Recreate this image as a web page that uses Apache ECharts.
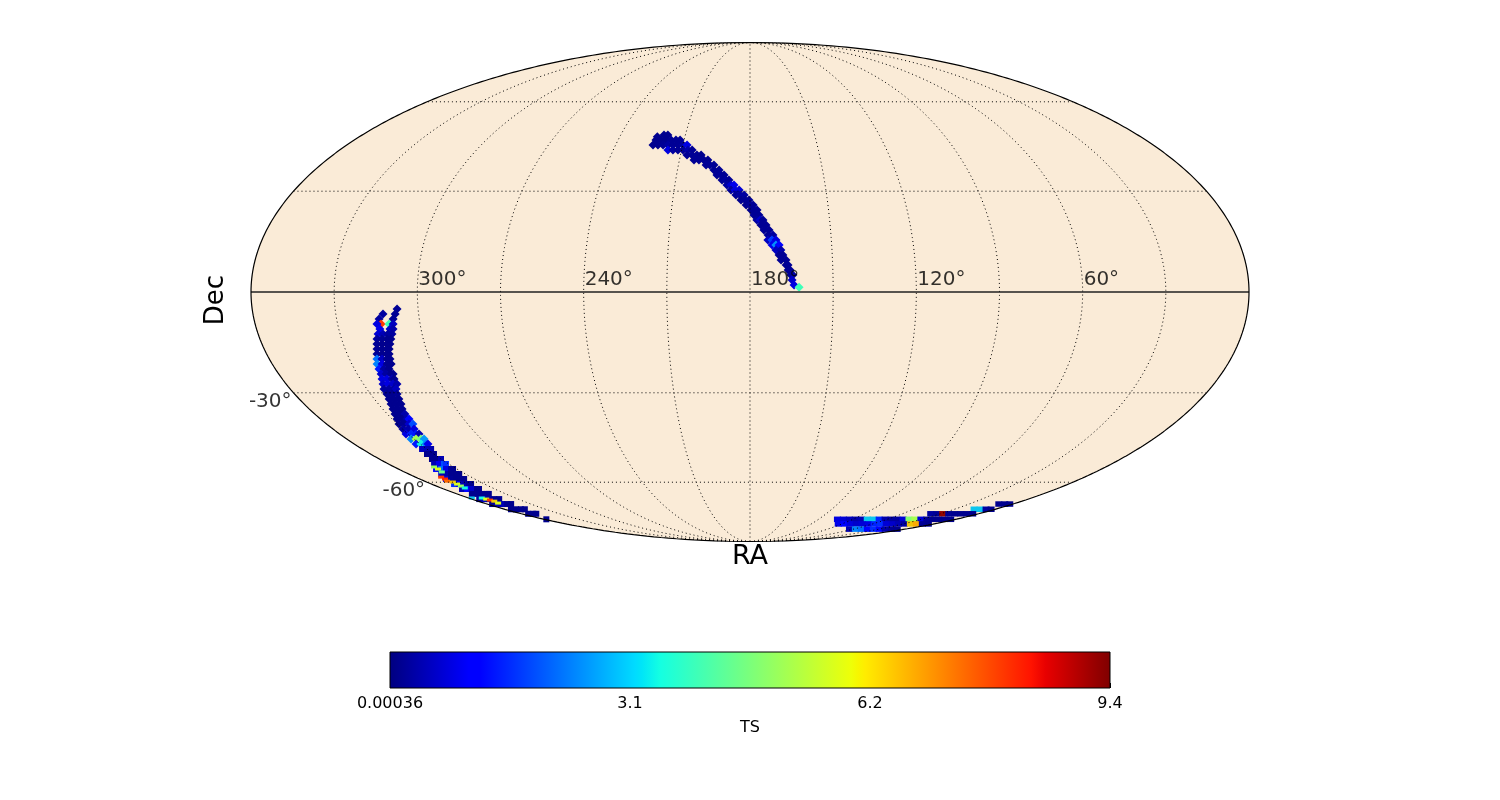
<!DOCTYPE html>
<html><head><meta charset="utf-8">
<script src="https://cdn.jsdelivr.net/npm/echarts@6/dist/echarts.min.js"></script>
<style>html,body{margin:0;background:#fff}#c{width:1500px;height:800px}</style></head>
<body><div id="c"></div>
<script>
// Cells of the sky map: [RA deg, Dec deg, TS]
const northArc = [
[222.7,47.5,.15],[219.9,48.1,.15],[218.1,48.1,.15],
[222.8,46.44,.15],[220.5,46.44,.15],[218.2,46.44,.15],[215.9,46.44,.2],[213.7,46.44,.2],[211.8,46.44,.2],
[223.3,44.75,.15],[221.1,44.75,.15],[218.8,44.75,.2],[216.6,44.75,.3],[214.4,44.75,.2],[212.1,44.75,.2],[209.9,44.75,.3],[208.1,44.75,.9],
[216.0,43.1,.9],[213.8,43.1,.3],[211.6,43.1,.2],[209.4,43.1,.2],[207.2,43.1,.4],[205.4,43.1,.2],
[207.2,41.47,.2],[205.0,41.47,.2],[202.9,41.47,.2],[201.1,41.47,.15],
[203.8,39.85,.2],[201.7,39.85,.2],[199.6,39.85,.2],[197.9,39.85,.15],
[198.4,38.23,.2],[196.8,38.23,.2],[195.1,38.23,.2],
[194.9,36.63,.2],[192.8,36.63,.2],
[193.5,35.05,.2],[191.8,35.05,.25],[190.6,35.05,.2],
[191.3,33.49,.2],[189.7,33.49,.3],[188.5,33.49,.2],
[189.2,31.93,.3],[187.6,31.93,.7],[186.4,31.93,1.0],
[187.5,30.37,.3],[185.9,30.37,.9],[184.3,30.37,.8],
[185.5,28.83,.2],[183.9,28.83,.3],[182.3,28.83,.3],
[183.5,27.3,.15],[181.9,27.3,.2],[180.4,27.3,.2],
[181.5,25.77,.15],[180,25.77,.2],[178.8,25.77,.2],
[179.6,24.26,.15],[178.5,24.26,.2],[177.3,24.26,.2],
[178.5,22.74,.2],[176.6,22.74,.2],
[177.4,21.24,.3],[176.2,21.24,.7],[175.1,21.24,.2],
[175.9,19.74,.2],[174,19.74,.2],
[174.8,18.25,.2],[172.9,18.25,.2],
[173.3,16.76,.2],[171.5,16.76,.3],
[173.4,15.27,.6],[171.9,15.27,1.7],[170.4,15.27,.9],
[171.9,13.79,1.0],[170.5,13.79,2.5],[169.3,13.79,1.2],
[170.5,12.31,.6],[168.7,12.31,.4],
[169.4,10.84,.2],[168,10.84,.2],
[168.7,9.37,.2],[166.9,9.37,.2],
[166.9,7.9,.15],[166.2,7.9,.2],
[166.2,6.44,.15],[165.5,6.44,.2],
[165.2,4.97,.2],[164.5,4.97,.3],
[164.8,3.51,.7],
[164.1,2.05,.9],
[162.3,1.4,4.0]
];
const southUpper = [
[307.6,-4.97,.2],
[308.5,-6.44,.2],[312.9,-6.44,.3],
[309.5,-7.9,.2],[314.6,-7.9,.3],
[314.2,-9.37,8.0],[311.3,-9.37,4.0],[309.8,-9.37,.6],[315.7,-9.37,.9],
[315.0,-10.84,1.0],[311.3,-10.84,.7],[310.2,-10.84,.4],
[316.1,-12.31,.8],[314.3,-12.31,.5],[312.5,-12.31,.3],[311.0,-12.31,.3],
[317.0,-13.79,.3],[315.2,-13.79,.2],[313.3,-13.79,.15],[311.9,-13.79,.15],
[317.6,-15.27,.2],[315.7,-15.27,.15],[313.9,-15.27,.15],[312.8,-15.27,.15],
[318.2,-16.76,.2],[316.3,-16.76,.15],[314.5,-16.76,.15],[313.7,-16.76,.15],
[318.9,-18.25,.2],[317.0,-18.25,.15],[315.2,-18.25,.15],[314.4,-18.25,.15],
[319.7,-19.74,2.2],[317.8,-19.74,.6],[315.9,-19.74,.15],[314.8,-19.74,.15],
[320.5,-21.24,2.4],[318.6,-21.24,.9],[316.7,-21.24,.15],[315.2,-21.24,.15],
[320.7,-22.74,1.4],[318.8,-22.74,.3],[316.9,-22.74,.15],
[320.9,-24.26,.7],[319.0,-24.26,.3],[317.1,-24.26,.15],[316.3,-24.26,.15],
[321.6,-25.77,.9],[319.7,-25.77,.9],[317.8,-25.77,.4],[317.0,-25.77,.15],
[322.4,-27.3,.7],[320.5,-27.3,.9],[318.6,-27.3,.7],[317.0,-27.3,.4],
[323.3,-28.83,.3],[321.3,-28.83,.3],[319.4,-28.83,.3],[318.6,-28.83,.6],
[323.5,-30.37,.15],[321.5,-30.37,.15],[319.5,-30.37,.2],
[324.1,-31.93,.15],[322.2,-31.93,.15],[320.2,-31.93,.15],
[324.9,-33.49,.15],[322.9,-33.49,.15],[320.9,-33.49,.15],
[325.8,-35.05,.15],[323.8,-35.05,.15],[322.1,-35.05,.15],
[326.8,-36.63,.15],[324.7,-36.63,.15],[322.7,-36.63,.4],
[327.9,-38.23,.15],[325.8,-38.23,.15],[323.8,-38.23,.4],[322.9,-38.23,1.2],
[329.2,-39.85,.15],[327.1,-39.85,.15],[325.0,-39.85,.7],[323.3,-39.85,1.9],
[329.8,-41.47,.3],[327.6,-41.47,.4],[325.0,-41.47,.9],
[330.9,-43.1,.9],[328.7,-43.1,1.5],[326.5,-43.1,1.4],[325.2,-43.1,.5],
[331.3,-44.75,2.4],[329.1,-44.75,5.2],[326.9,-44.75,4.7],[325.5,-44.75,2.6],
[331.9,-46.44,1.4],[329.7,-46.44,3.4],[327.4,-46.44,2.4],[326.5,-46.44,1.0]
];
const southLower = [
[332.2,-48.12,.6],[329.9,-48.12,.5],[328.0,-48.12,.4],
[333.2,-49.84,.15],[331.3,-49.84,.15],[329.9,-49.84,.15],
[334.4,-51.57,.15],[332.0,-51.57,.15],[330.0,-51.57,.5],
[337.3,-53.33,.5],[334.8,-53.33,1.0],[332.4,-53.33,1.9],[331.4,-53.33,1.6],
[340.7,-55.13,1.2],[338.1,-55.13,2.2],[335.6,-55.13,.9],[333.0,-55.13,.3],[332.0,-55.13,.15],
[342.9,-56.96,.6],[340.3,-56.96,.4],[337.7,-56.96,.15],[335.0,-56.96,.15],[333.4,-56.96,.15],
[345.6,-58.8,.9],[342.9,-58.8,.2],[340.2,-58.8,.15],[337.5,-58.8,.15],[335.8,-58.8,.15],
[347.2,-60.69,1.6],[344.3,-60.69,1.0],[341.5,-60.69,.4],[338.7,-60.69,.15],[337.6,-60.69,.15],
[349.3,-62.61,.5],[346.3,-62.61,1.2],[343.4,-62.61,.7],[340.5,-62.61,.15],[339.3,-62.61,.15],
[350.8,-64.55,.15],[347.8,-64.55,.15],[344.7,-64.55,.15],[341.6,-64.55,.15],[340.4,-64.55,.15],
[355.1,-66.64,.3],[351.9,-66.64,.6],[348.7,-66.64,.3],[345.4,-66.64,.15],[342.2,-66.64,.15],
[356.5,-68.71,.15],[353.1,-68.71,.5],[349.6,-68.71,.5],[346.2,-68.71,.15],[343.5,-68.71,.15],
[355.4,-70.97,.15],[351.7,-70.97,.15],[348.1,-70.97,.15],[345.2,-70.97,.15],
[354.7,-73,.15],[350.7,-73,.15],[348.3,-73,.15],
[358.2,-75.6,.15]
];
const southStreaks = [
[339.9,-54.4,5.0],[339.7,-55.13,5.8],[340.5,-56.2,4.5],
[346.2,-58.1,8.0],[346.2,-58.8,8.2],[347.6,-59.6,7.5],[345.4,-59.93,6.5],[345.5,-60.69,5.8],[345.9,-61.46,5.0],[346.2,-62.2,3.5],
[357.9,-66.2,3.0],[351.5,-66.2,3.5],[350.6,-66.64,5.8],[350.0,-67.05,8.0],[349.2,-67.5,6.5],[350.4,-68.3,5.8]
];
const polarArc = [
[9.7,-68.71,.15],[5.6,-68.71,.15],[2.2,-68.71,.15],
[15.6,-70.97,3.0],[11.2,-70.97,3.0],[6.8,-70.97,.3],[3.1,-70.97,.15],
[37.7,-73,.3],[33.0,-73,.2],[28.3,-73,9.2],[23.5,-73,.2],[18.8,-73,.15],[14.0,-73,.15],[9.3,-73,.15],[4.6,-73,.15],
[103.5,-75.6,.9],[98.3,-75.6,.8],[93.1,-75.6,.6],[87.9,-75.6,.4],[82.6,-75.6,.5],[77.4,-75.6,3.0],[72.2,-75.6,3.0],[67.0,-75.6,1.5],[61.8,-75.6,.4],[56.6,-75.6,.3],[51.4,-75.6,.3],[46.1,-75.6,.8],[40.9,-75.6,4.8],[35.7,-75.6,5.2],[30.5,-75.6,.8],[25.3,-75.6,.2],[20.1,-75.6,.15],[14.9,-75.6,.15],[9.6,-75.6,.15],[4.4,-75.6,.15],
[93.7,-77.9,1.0],[87.8,-77.9,1.2],[82.0,-77.9,.9],[76.1,-77.9,.7],[70.2,-77.9,.8],[64.3,-77.9,.9],[58.4,-77.9,1.5],[52.5,-77.9,1.6],[46.7,-77.9,.8],[40.8,-77.9,.7],[34.9,-77.9,.5],[29.0,-77.9,.3],[23.1,-77.9,6.5],[17.3,-77.9,6.8],[11.4,-77.9,.2],[5.5,-77.9,.15],
[64.6,-80.7,.5],[57.7,-80.7,2.4],[50.8,-80.7,2.2],[43.8,-80.7,1.2],[36.9,-80.7,1.6],[30.0,-80.7,1.2],[23.1,-80.7,.4],[16.1,-80.7,.2],[9.2,-80.7,.15]
];
const meridians = [30,60,90,120,150,180,210,240,270,300,330];
const parallels = [60,30,-30,-60];
const raLabels = [300,240,180,120,60];
const decLabels = [-30,-60];
const colorbarTicks = [0.00036,3.133,6.267,9.4];
const colorbarLabels = ['0.00036','3.1','6.2','9.4'];
const tsRange = [0.00036,9.4];
const jetStops = [[0,'#00007f'],[.11,'#0000ff'],[.125,'#0000ff'],[.34,'#00dbff'],[.35,'#00e5f8'],[.375,'#14ffe2'],[.64,'#eeff08'],[.65,'#f7f600'],[.66,'#ffec00'],[.89,'#ff1300'],[.91,'#e80000'],[1,'#7f0000']];
const jetEven = ['#00007f','#0000ff','#007fff','#14ffe2','#7bff7b','#e2ff14','#ff9400','#ff2100','#7f0000'];

// Mollweide projection, RA grows to the left and RA 180 is the centre
function project(ra, dec){
  const phi = dec*Math.PI/180, lam = (180-ra)*Math.PI/180;
  let th = phi;
  if (Math.abs(dec) < 89.999){
    for (let i=0;i<60;i++){
      const d = (2*th+Math.sin(2*th)-Math.PI*Math.sin(phi))/(2+2*Math.cos(2*th));
      th -= d; if (Math.abs(d)<1e-9) break;
    }
  } else th = Math.sign(dec)*Math.PI/2;
  return [2*Math.SQRT2/Math.PI*lam*Math.cos(th), Math.SQRT2*Math.sin(th)];
}
const cells = a => a.map(c => project(c[0],c[1]).concat(c[2]));
function meridianPath(ra){ const p=[]; for(let d=-90;d<=90;d+=.5) p.push(project(ra,d)); return p; }
function parallelPath(dec){ const p=[]; for(let r=0;r<=360;r+=2) p.push(project(r,dec)); return p; }
const rimLeft = meridianPath(360), rimRight = meridianPath(0);
const rim = rimLeft.concat(rimRight.slice().reverse());

const lineBase = {type:'line',xAxisIndex:0,yAxisIndex:0,showSymbol:false,symbol:'none',silent:true,clip:false,z:4,animation:false};
const cellBase = {type:'scatter',xAxisIndex:0,yAxisIndex:0,silent:true,z:3,animation:false,clip:false,itemStyle:{opacity:1}};
const series = [
 {type:'custom',xAxisIndex:0,yAxisIndex:0,silent:true,z:1,clip:false,data:[0],animation:false,
  renderItem:(p,api)=>({type:'polygon',shape:{points:rim.map(q=>api.coord(q))},style:{fill:'#faebd7',stroke:null}})},
 Object.assign({},cellBase,{name:'north',data:cells(northArc),symbol:'diamond',symbolSize:9}),
 Object.assign({},cellBase,{name:'southUpper',data:cells(southUpper),symbol:'diamond',symbolSize:9}),
 Object.assign({},cellBase,{name:'southLower',data:cells(southLower),symbol:'rect',symbolSize:[6,6]}),
 Object.assign({},cellBase,{name:'polar',data:cells(polarArc),symbol:'rect',symbolSize:[7,5.5]}),
 Object.assign({},cellBase,{name:'streaks',data:cells(southStreaks),symbol:'rect',symbolSize:[6,3],z:3.5}),
];
meridians.forEach(r=>series.push(Object.assign({},lineBase,{data:meridianPath(r),lineStyle:{color:'#000',width:1,type:[1,3]}})));
parallels.forEach(d=>series.push(Object.assign({},lineBase,{data:parallelPath(d),lineStyle:{color:'#000',width:1,type:[1,3]}})));
series.push(Object.assign({},lineBase,{data:parallelPath(0),lineStyle:{color:'#222',width:1.3}}));
series.push(Object.assign({},lineBase,{data:rim.concat([rim[0]]),lineStyle:{color:'#000',width:1.2}}));
series.push({type:'scatter',xAxisIndex:0,yAxisIndex:0,silent:true,z:6,symbolSize:0,animation:false,clip:false,
  data:raLabels.map(r=>({value:project(r,0),name:r+'°'})),
  label:{show:true,formatter:'{b}',position:[1,-22],align:'left',verticalAlign:'top',color:'#000',fontFamily:'DejaVu Sans',fontSize:20}});
series.push({type:'scatter',xAxisIndex:0,yAxisIndex:0,silent:true,z:6,symbolSize:0,animation:false,clip:false,
  data:decLabels.map(d=>({value:project(0.01+359.98,d),name:d+'°'})),
  label:{show:true,formatter:'{b}',position:[-2,-1],align:'right',verticalAlign:'top',color:'#000',fontFamily:'DejaVu Sans',fontSize:20}});
series.push({type:'custom',xAxisIndex:1,yAxisIndex:1,silent:true,z:2,data:[tsRange],animation:false,
  renderItem:(p,api)=>{
    const a=api.coord([api.value(0),1]), b=api.coord([api.value(1),0]);
    return {type:'rect',shape:{x:a[0],y:a[1],width:b[0]-a[0],height:b[1]-a[1]},
      style:{stroke:'#000',lineWidth:1,fill:new echarts.graphic.LinearGradient(0,0,1,0,jetStops.map(s=>({offset:s[0],color:s[1]})))}};
  }});

const chart = echarts.init(document.getElementById('c'),null,{renderer:'canvas'});
chart.setOption({
  animation:false,
  backgroundColor:'#fff',
  grid:[{left:251,top:42.5,width:998,height:499,show:false},{left:390,top:652,width:720,height:36,show:false}],
  xAxis:[
   {type:'value',gridIndex:0,min:-2*Math.SQRT2,max:2*Math.SQRT2,show:false},
   {type:'value',gridIndex:1,min:tsRange[0],max:tsRange[1],name:'TS',nameLocation:'middle',nameGap:32,
    nameTextStyle:{fontFamily:'DejaVu Sans',fontSize:16,color:'#000'},
    splitLine:{show:false},axisLine:{show:false},
    axisTick:{show:true,inside:true,length:5,customValues:colorbarTicks,lineStyle:{color:'#000',width:1}},
    axisLabel:{show:true,customValues:colorbarTicks,margin:8,fontFamily:'DejaVu Sans',fontSize:16,color:'#000',
      formatter:v=>colorbarLabels[colorbarTicks.indexOf(v)]}}
  ],
  yAxis:[
   {type:'value',gridIndex:0,min:-Math.SQRT2,max:Math.SQRT2,show:false},
   {type:'value',gridIndex:1,min:0,max:1,show:false}
  ],
  visualMap:{show:false,type:'continuous',seriesIndex:[1,2,3,4,5],dimension:2,min:tsRange[0],max:tsRange[1],inRange:{color:jetEven}},
  graphic:[
   {type:'text',x:750,y:557,z:10,style:{text:'RA',font:'27px "DejaVu Sans"',fill:'#000',align:'center',verticalAlign:'middle'}},
   {type:'text',x:216,y:300,rotation:Math.PI/2,z:10,style:{text:'Dec',font:'26px "DejaVu Sans"',fill:'#000',align:'center',verticalAlign:'middle'}}
  ],
  series
});
</script></body></html>
